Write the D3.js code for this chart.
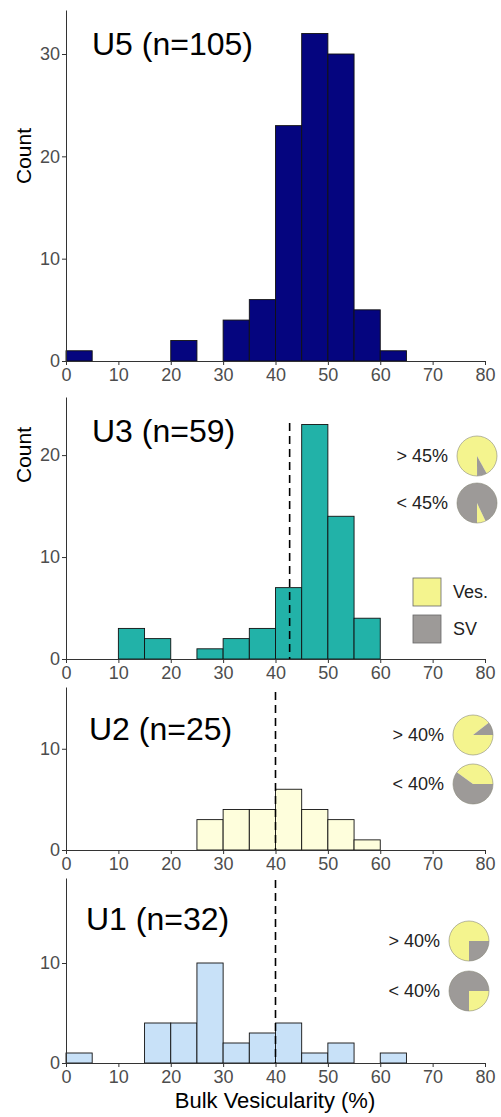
<!DOCTYPE html>
<html lang="en">
<head>
<meta charset="UTF-8">
<title>Bulk vesicularity histograms</title>
<script src="https://d3js.org/d3.v7.min.js"></script>
<style>
  body { margin: 0; background: #fff; font-family: "Liberation Sans", Arial, sans-serif; }
  .axis path, .axis line { stroke: #333; }
  .axis text { fill: #4d4d4d; font-size: 18px; font-family: "Liberation Sans", Arial, sans-serif; }
</style>
</head>
<body>
<div id="chart"></div>
<script>
// bins of 5 % bulk vesicularity (start of each bin)
const binStarts = [0, 5, 10, 15, 20, 25, 30, 35, 40, 45, 50, 55, 60];
const binWidth = 5;

// counts per bin, one array per unit
const u5Counts = [1, 0, 0, 0, 2, 0, 4, 6, 23, 32, 30, 5, 1];
const u3Counts = [0, 0, 3, 2, 0, 1, 2, 3, 7, 23, 14, 4, 0];
const u2Counts = [0, 0, 0, 0, 0, 3, 4, 4, 6, 4, 3, 1, 0];
const u1Counts = [1, 0, 0, 4, 4, 10, 2, 3, 4, 1, 2, 0, 1];

const unitTitles = ["U5 (n=105)", "U3 (n=59)", "U2 (n=25)", "U1 (n=32)"];
const xTicks = [0, 10, 20, 30, 40, 50, 60, 70, 80];

// dashed threshold lines (null = none)
const thresholds = [null, 42.7, 40, 40];
const pieLabels = [null, ["> 45%", "< 45%"], ["> 40%", "< 40%"], ["> 40%", "< 40%"]];
// SV share in each pie (above / below threshold)
const svShareAbove = [null, 0.08, 0.105, 0.25];
const svShareBelow = [null, 0.93, 0.60, 0.75];
const legendLabels = ["Ves.", "SV"];

const W = 501, H = 1117;
const svg = d3.select("#chart").append("svg")
  .attr("width", W).attr("height", H);

const x = d3.scaleLinear().domain([0, 80]).range([66, 485]);

// layout of each panel: bottom, top, y-max, tick values, colours, pie placement
const panels = [
  { counts: u5Counts, y0: 361, yTop: 10, yMax: 34.3, ticks: [0, 10, 20, 30], fill: "#05057f",
    titleY: 55, titleX: 92, countY: 156 },
  { counts: u3Counts, y0: 659, yTop: 397, yMax: 25.7, ticks: [0, 10, 20], fill: "#22b2a8",
    titleY: 442, titleX: 92, countY: 455, pieX: 477, pieY: [456, 503], dashTop: 423, gStart: [151, 180] },
  { counts: u2Counts, y0: 850, yTop: 687, yMax: 16.1, ticks: [0, 10], fill: "#fefedc",
    titleY: 740, titleX: 89, pieX: 473, pieY: [735, 784], dashTop: 692, gStart: [52, 90] },
  { counts: u1Counts, y0: 1063, yTop: 878, yMax: 18.5, ticks: [0, 10], fill: "#c8e1f8",
    titleY: 930, titleX: 86, pieX: 469, pieY: [941, 991], dashTop: 880, gStart: [90, 180] }
];

const yellow = "#f4f48e", gray = "#9d9a98";
const arc = d3.arc().innerRadius(0).outerRadius(20);
const rad = d => d * Math.PI / 180;

panels.forEach((p, i) => {
  const g = svg.append("g");
  const y = d3.scaleLinear().domain([0, p.yMax]).range([p.y0, p.yTop]);

  // bars
  g.selectAll("rect.bar")
    .data(binStarts.map((b, k) => ({ b, c: p.counts[k] })).filter(d => d.c > 0))
    .enter().append("rect")
    .attr("class", "bar")
    .attr("x", d => x(d.b))
    .attr("width", d => x(d.b + binWidth) - x(d.b))
    .attr("y", d => y(d.c))
    .attr("height", d => y(0) - y(d.c))
    .attr("fill", p.fill)
    .attr("stroke", "#111")
    .attr("stroke-width", 0.9);

  // axes
  g.append("g").attr("class", "axis")
    .attr("transform", `translate(0,${p.y0})`)
    .call(d3.axisBottom(x).tickValues(xTicks).tickSize(4).tickSizeOuter(0).tickPadding(3));
  g.append("g").attr("class", "axis")
    .attr("transform", `translate(${x(0)},0)`)
    .call(d3.axisLeft(y).tickValues(p.ticks).tickSize(4).tickSizeOuter(0).tickPadding(2));

  // title
  g.append("text")
    .attr("x", p.titleX).attr("y", p.titleY)
    .attr("font-size", 32).attr("fill", "#000")
    .text(unitTitles[i]);

  if (p.countY) {
    g.append("text")
      .attr("transform", `translate(31,${p.countY}) rotate(-90)`)
      .attr("text-anchor", "middle")
      .attr("font-size", 21).attr("fill", "#000")
      .text("Count");
  }

  if (thresholds[i] != null) {
    g.append("line")
      .attr("x1", x(thresholds[i])).attr("x2", x(thresholds[i]))
      .attr("y1", p.dashTop).attr("y2", p.y0)
      .attr("stroke", "#000").attr("stroke-width", 1.6)
      .attr("stroke-dasharray", "8,5");

    const shares = [svShareAbove[i], svShareBelow[i]];
    shares.forEach((sv, k) => {
      const cy = p.pieY[k];
      const a0 = rad(p.gStart[k]);
      const a1 = a0 + sv * 2 * Math.PI;
      const pg = g.append("g").attr("transform", `translate(${p.pieX},${cy})`);
      pg.append("path")
        .attr("d", arc({ startAngle: a1, endAngle: a0 + 2 * Math.PI }))
        .attr("fill", yellow);
      pg.append("path")
        .attr("d", arc({ startAngle: a0, endAngle: a1 }))
        .attr("fill", gray);
      pg.append("circle").attr("r", 20)
        .attr("fill", "none").attr("stroke", "#8a8a7a").attr("stroke-width", 0.6);
      g.append("text")
        .attr("x", p.pieX - 29).attr("y", cy)
        .attr("dy", "0.35em")
        .attr("text-anchor", "end")
        .attr("font-size", 18).attr("fill", "#222")
        .text(pieLabels[i][k]);
    });
  }
});

// legend for the pies
const legend = svg.append("g").attr("transform", "translate(413,578)");
legend.selectAll("rect")
  .data(legendLabels)
  .enter().append("rect")
  .attr("x", 0).attr("y", (d, k) => k * 37)
  .attr("width", 28).attr("height", 28)
  .attr("fill", (d, k) => k === 0 ? yellow : gray)
  .attr("stroke", "#666").attr("stroke-width", 0.8);
legend.selectAll("text")
  .data(legendLabels)
  .enter().append("text")
  .attr("x", 40).attr("y", (d, k) => k * 37 + 14)
  .attr("dy", "0.35em")
  .attr("font-size", 18).attr("fill", "#222")
  .text(d => d);

// x axis title
svg.append("text")
  .attr("x", 275).attr("y", 1100).attr("dy", "0.35em")
  .attr("text-anchor", "middle")
  .attr("font-size", 22).attr("fill", "#000")
  .text("Bulk Vesicularity (%)");
</script>
</body>
</html>
